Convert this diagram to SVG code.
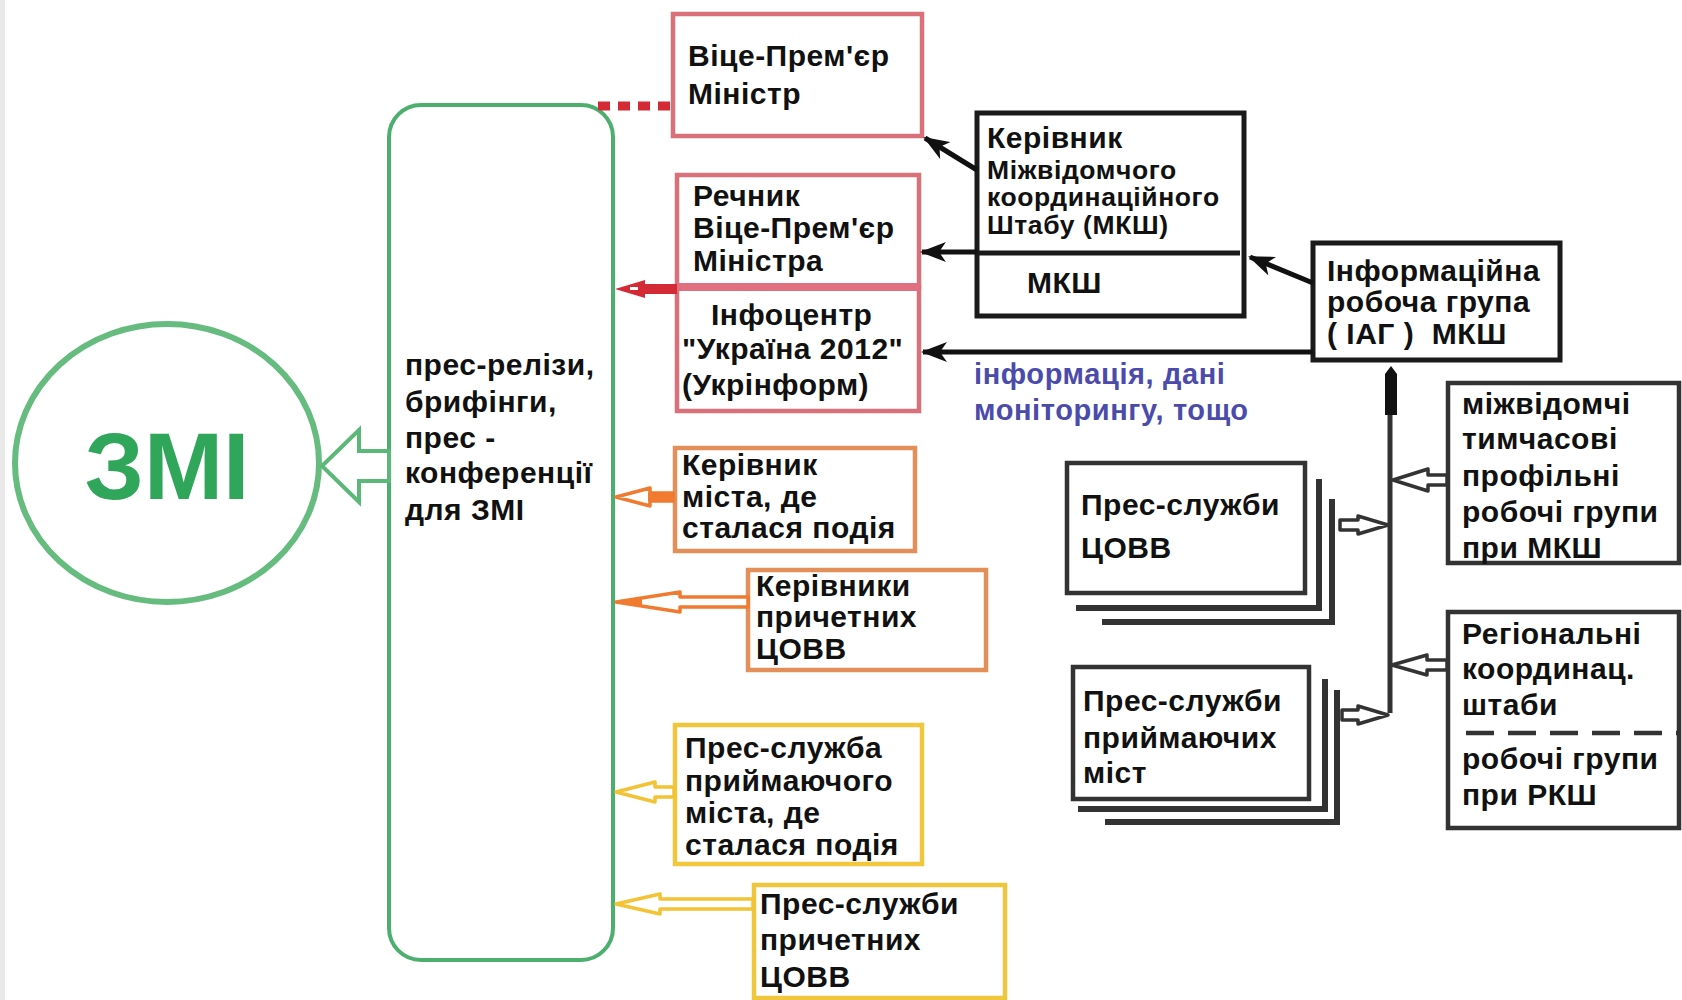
<svg xmlns="http://www.w3.org/2000/svg" width="1682" height="1000" viewBox="0 0 1682 1000">
<defs>
<style>
.t{font-family:"Liberation Sans",Arial,sans-serif;font-weight:bold;font-size:30px;letter-spacing:0.5px;fill:#111}
.s{font-size:26.5px;letter-spacing:0.6px}
.blue{fill:#4b4bab;font-size:29px;letter-spacing:0.6px}
.pink{fill:#fff;stroke:#d9707a;stroke-width:4.5}
.org{fill:#fff;stroke:#e38f5a;stroke-width:4.5}
.yel{fill:#fff;stroke:#f0c63c;stroke-width:4.5}
.blk{fill:#fff;stroke:#1a1a1a;stroke-width:5}
.gry{fill:#fff;stroke:#333;stroke-width:4.5}
.lay{fill:none;stroke:#333;stroke-width:6}
.ln{fill:none;stroke:#111;stroke-width:5}
.ha{fill:#fff;stroke:#333;stroke-width:3.5;stroke-linejoin:round}
.oa{fill:#fff;stroke:#f07b30;stroke-width:3.5;stroke-linejoin:round}
.ya{fill:#fff;stroke:#f2c335;stroke-width:3.5;stroke-linejoin:round}
</style>
<marker id="ah" markerUnits="userSpaceOnUse" viewBox="0 0 26 20" refX="24" refY="10" markerWidth="26" markerHeight="20" orient="auto">
<path d="M26,10 L0,0 L7,10 L0,20 Z" fill="#111"/>
</marker>
</defs>
<rect x="0" y="0" width="1682" height="1000" fill="#fff"/>
<rect x="0" y="0" width="5" height="1000" fill="#e9e9e9"/>

<g id="zmi">
<ellipse cx="167" cy="463" rx="152" ry="139" fill="#fff" stroke="#66bb7f" stroke-width="6"/>
<text x="167" y="499" text-anchor="middle" style="font-family:'Liberation Sans',Arial,sans-serif;font-weight:bold;font-size:95px;fill:#2fa65a">ЗМІ</text>
</g>

<g id="media-channels">
<rect x="389" y="105" width="224" height="855" rx="32" ry="32" fill="#fff" stroke="#4caf6e" stroke-width="4"/>
<text class="t" x="405" y="375">прес-релізи,</text>
<text class="t" x="405" y="412">брифінги,</text>
<text class="t" x="405" y="448">прес -</text>
<text class="t" x="405" y="483">конференції</text>
<text class="t" x="405" y="520">для ЗМІ</text>
</g>

<g id="vice-premier">
<rect class="pink" x="673" y="14" width="249" height="122"/>
<text class="t" x="688" y="66">Віце-Прем'єр</text>
<text class="t" x="688" y="104">Міністр</text>
</g>

<g id="spokesman">
<rect class="pink" x="677" y="175" width="242" height="112"/>
<text class="t" x="693" y="206">Речник</text>
<text class="t" x="693" y="238">Віце-Прем'єр</text>
<text class="t" x="693" y="271">Міністра</text>
</g>

<g id="infocenter">
<rect class="pink" x="677" y="287" width="242" height="124"/>
<line x1="677" y1="287" x2="919" y2="287" stroke="#e07080" stroke-width="8"/>
<text class="t" x="711" y="325">Інфоцентр</text>
<text class="t" x="682" y="359">"Україна 2012"</text>
<text class="t" x="682" y="395">(Укрінформ)</text>
</g>

<g id="mksh">
<rect class="blk" x="977" y="113" width="267" height="203"/>
<line x1="979" y1="253" x2="1240" y2="253" stroke="#1a1a1a" stroke-width="5"/>
<text class="t" x="987" y="148">Керівник</text>
<text class="t s" x="987" y="179">Міжвідомчого</text>
<text class="t s" x="987" y="206">координаційного</text>
<text class="t s" x="987" y="234">Штабу (МКШ)</text>
<text class="t" x="1027" y="293">МКШ</text>
</g>

<g id="iag">
<rect class="blk" x="1313" y="243" width="247" height="117"/>
<text class="t" x="1327" y="281">Інформаційна</text>
<text class="t" x="1327" y="312">робоча група</text>
<text class="t" x="1327" y="344" style="white-space:pre">( ІАГ )  МКШ</text>
</g>

<g id="info-label">
<text class="t blue" x="974" y="384">інформація, дані</text>
<text class="t blue" x="974" y="420">моніторингу, тощо</text>
</g>

<g id="city-head">
<rect class="org" x="675" y="448" width="240" height="103"/>
<text class="t" x="682" y="475">Керівник</text>
<text class="t" x="682" y="507">міста, де</text>
<text class="t" x="682" y="538">сталася подія</text>
</g>

<g id="covv-heads">
<rect class="org" x="748" y="570" width="238" height="100"/>
<text class="t" x="756" y="596">Керівники</text>
<text class="t" x="756" y="627">причетних</text>
<text class="t" x="756" y="659">ЦОВВ</text>
</g>

<g id="host-city-press">
<rect class="yel" x="675" y="725" width="247" height="139"/>
<text class="t" x="685" y="758">Прес-служба</text>
<text class="t" x="685" y="791">приймаючого</text>
<text class="t" x="685" y="823">міста, де</text>
<text class="t" x="685" y="855">сталася подія</text>
</g>

<g id="covv-press">
<rect class="yel" x="754" y="885" width="251" height="113"/>
<text class="t" x="760" y="914">Прес-служби</text>
<text class="t" x="760" y="950">причетних</text>
<text class="t" x="760" y="987">ЦОВВ</text>
</g>

<g id="press-covv">
<polyline class="lay" points="1102,622 1332,622 1332,499"/>
<polyline class="lay" points="1076,608 1319,608 1319,479"/>
<rect class="gry" x="1067" y="463" width="238" height="130"/>
<text class="t" x="1081" y="515">Прес-служби</text>
<text class="t" x="1081" y="558">ЦОВВ</text>
</g>

<g id="press-host-cities">
<polyline class="lay" points="1105,822 1337,822 1337,690"/>
<polyline class="lay" points="1078,809 1325,809 1325,679"/>
<rect class="gry" x="1073" y="667" width="236" height="132"/>
<text class="t" x="1083" y="711">Прес-служби</text>
<text class="t" x="1083" y="748">приймаючих</text>
<text class="t" x="1083" y="783">міст</text>
</g>

<g id="interagency-groups">
<rect class="gry" x="1448" y="383" width="231" height="180"/>
<text class="t" x="1462" y="414">міжвідомчі</text>
<text class="t" x="1462" y="449">тимчасові</text>
<text class="t" x="1462" y="486">профільні</text>
<text class="t" x="1462" y="522">робочі групи</text>
<text class="t" x="1462" y="558">при МКШ</text>
</g>

<g id="regional-hq">
<rect class="gry" x="1448" y="612" width="231" height="216"/>
<line x1="1466" y1="733" x2="1679" y2="733" stroke="#333" stroke-width="4.5" stroke-dasharray="28 14"/>
<text class="t" x="1462" y="644">Регіональні</text>
<text class="t" x="1462" y="679">координац.</text>
<text class="t" x="1462" y="715">штаби</text>
<text class="t" x="1462" y="769">робочі групи</text>
<text class="t" x="1462" y="805">при РКШ</text>
</g>

<g id="connectors">
<polygon points="322,466 359,430 359,451 389,451 389,481 359,481 359,502" fill="#fff" stroke="#5cb878" stroke-width="4" stroke-linejoin="miter"/>
<line x1="598" y1="106" x2="671" y2="106" stroke="#d42a35" stroke-width="9" stroke-dasharray="12 8"/>
<polygon points="615,289 645,280 645,284 677,284 677,294 645,294 645,298" fill="#d42a35"/>
<rect x="630" y="287" width="8" height="3" fill="#fff"/>
<polygon class="oa" points="616,497 650,488 650,493 673,493 673,501 650,501 650,506"/>
<line x1="648" y1="497" x2="674" y2="497" stroke="#f07b30" stroke-width="9"/>
<polygon class="oa" points="616,602 680,592 680,597 748,597 748,607 680,607 680,612"/>
<polygon points="616,602 642,597 642,607" fill="#f07b30"/>
<polygon class="ya" points="616,792 655,782 655,787 674,787 674,797 655,797 655,802"/>
<polygon class="ya" points="616,904 660,894 660,899 753,899 753,909 660,909 660,914"/>
<line class="ln" x1="977" y1="170" x2="925" y2="138" marker-end="url(#ah)"/>
<line class="ln" x1="977" y1="252" x2="922" y2="252" marker-end="url(#ah)"/>
<line class="ln" x1="1313" y1="352" x2="923" y2="352" marker-end="url(#ah)"/>
<line class="ln" x1="1313" y1="283" x2="1250" y2="257" marker-end="url(#ah)"/>
<line x1="1390" y1="400" x2="1390" y2="713" stroke="#333" stroke-width="5"/>
<polygon points="1391,366 1397,374 1397,415 1385,415 1385,374" fill="#111"/>
<polygon class="ha" points="1393,480 1428,469 1428,475 1447,475 1447,485 1428,485 1428,491"/>
<polygon class="ha" points="1388,525 1358,516 1358,520 1340,520 1340,530 1358,530 1358,534"/>
<polygon class="ha" points="1392,665 1427,655 1427,660 1447,660 1447,670 1427,670 1427,675"/>
<polygon class="ha" points="1388,715 1358,706 1358,710 1342,710 1342,720 1358,720 1358,724"/>
</g>
</svg>
